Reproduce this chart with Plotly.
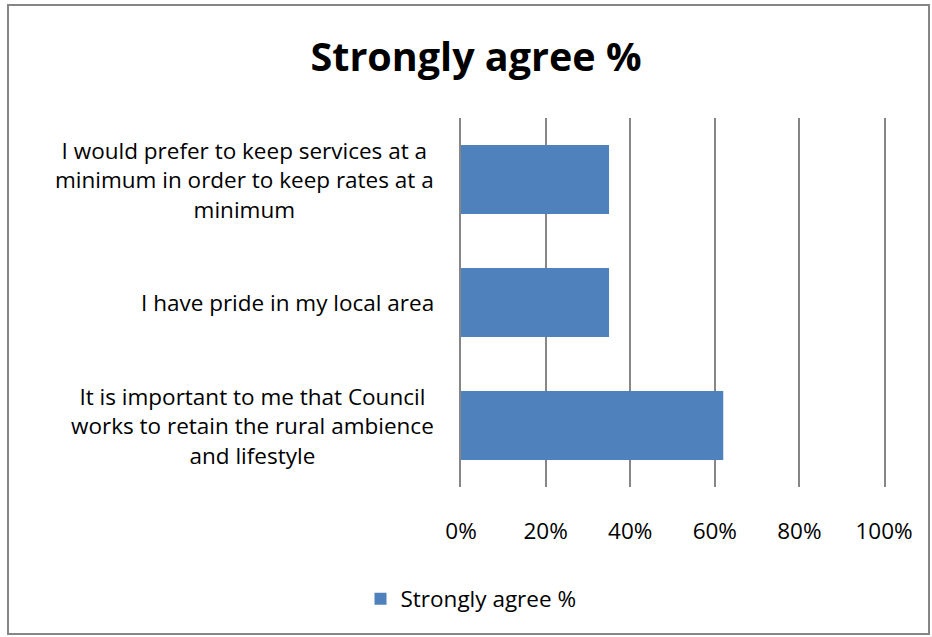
import plotly.graph_objects as go

# Survey statements (bottom to top) and share who strongly agree
categories = [
    "It is important to me that Council works to retain the rural ambience and lifestyle",
    "I have pride in my local area",
    "I would prefer to keep services at a minimum in order to keep rates at a minimum",
]
category_labels = [
    "It is important to me that Council<br>works to retain the rural ambience<br>and lifestyle",
    "I have pride in my local area",
    "I would prefer to keep services at a<br>minimum in order to keep rates at a<br>minimum",
]
strongly_agree = [0.62, 0.35, 0.35]
tick_values = [0, 0.2, 0.4, 0.6, 0.8, 1.0]
tick_labels = ["0%", "20%", "40%", "60%", "80%", "100%"]

FONT = "Open Sans"
TXT = 22.5
GRID = "#868686"
W, H = 932, 637
ML, MR, MT, MB = 461, 48, 118, 150
PW, PH = W - ML - MR, H - MT - MB

fig = go.Figure()
fig.add_trace(go.Bar(
    x=strongly_agree,
    y=categories,
    orientation="h",
    width=0.56,
    marker=dict(color="#4F81BD", line=dict(width=0)),
    name="Strongly agree %",
))

# Category labels: right-aligned blocks with centred lines
for cat, lab in zip(categories, category_labels):
    fig.add_annotation(
        x=-25 / PW, xref="paper", y=cat, yref="y",
        text=lab, showarrow=False, xanchor="right", yanchor="middle",
        align="center", font=dict(family=FONT, size=TXT, color="#000000"),
    )


def px_x(p):
    return (p - ML) / PW


def px_y(p):
    return (H - MB - p) / PH


# Outer chart border
fig.add_shape(
    type="rect", xref="paper", yref="paper",
    x0=px_x(8), x1=px_x(929), y0=px_y(634), y1=px_y(5),
    line=dict(color=GRID, width=2), fillcolor="rgba(0,0,0,0)",
)

fig.update_layout(
    width=W, height=H,
    margin=dict(l=ML, r=MR, t=MT, b=MB),
    paper_bgcolor="#FFFFFF", plot_bgcolor="#FFFFFF",
    font=dict(family=FONT, size=TXT, color="#000000"),
    title=dict(
        text="<b>Strongly agree %</b>", x=476 / W, xref="container", xanchor="center",
        y=1 - 57 / H, yref="container", yanchor="middle",
        font=dict(family=FONT, size=39.5, color="#000000"),
    ),
    showlegend=True,
    legend=dict(
        orientation="h", x=px_x(471), xanchor="center", y=px_y(599), yanchor="middle",
        font=dict(family=FONT, size=TXT, color="#000000"),
        itemwidth=30,
    ),
    bargap=0.44,
)
fig.update_xaxes(
    range=[0, 1], tickvals=tick_values, ticktext=tick_labels,
    showgrid=True, gridcolor=GRID, gridwidth=1.5,
    zeroline=False, showline=False, ticks="", ticklabelstandoff=28,
    tickfont=dict(family=FONT, size=TXT),
)
# The y-axis line and its mirror give the 0% and 100% grid lines
fig.update_yaxes(
    categoryorder="array", categoryarray=categories,
    showticklabels=False, showgrid=False, zeroline=False,
    showline=True, mirror=True, linecolor=GRID, linewidth=1.5, ticks="",
)

fig.write_html("out.html")
